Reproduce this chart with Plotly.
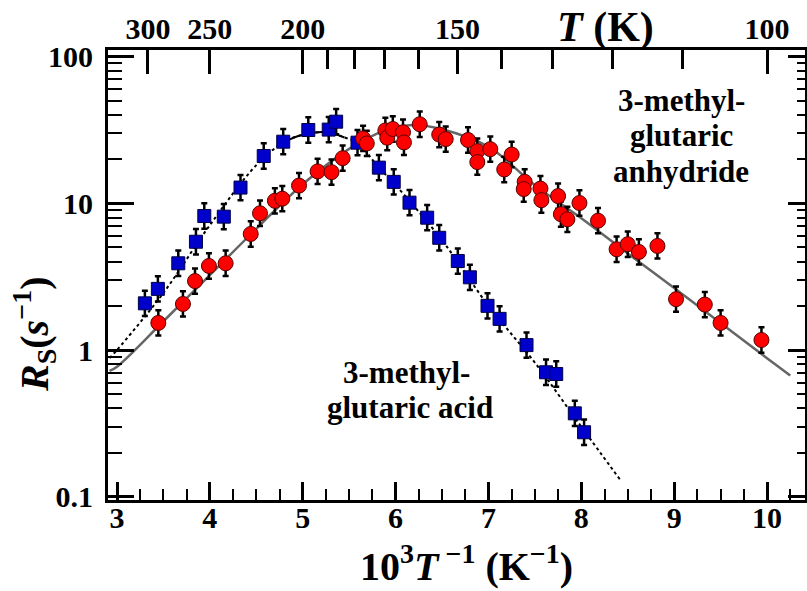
import plotly.graph_objects as go

# ---------------- data ----------------
# 3-methylglutaric acid (blue squares)
acid_x = [3.30, 3.44, 3.66, 3.85, 3.94, 4.15, 4.33, 4.58, 4.79, 5.06, 5.28, 5.36,
          5.59, 5.82, 5.98, 6.15, 6.34, 6.47, 6.67, 6.80, 6.99, 7.12, 7.41, 7.62,
          7.73, 7.93, 8.03]
acid_y = [2.08, 2.61, 3.90, 5.47, 8.19, 8.11, 12.8, 21.0, 26.3, 31.6, 31.8, 36.0,
          25.9, 17.5, 14.0, 10.1, 7.98, 5.82, 4.04, 3.13, 2.00, 1.63, 1.08, 0.705,
          0.686, 0.370, 0.275]

# 3-methylglutaric anhydride (red circles)
anh_x = [3.445, 3.71, 3.84, 3.99, 4.17, 4.44, 4.54, 4.70, 4.78, 4.96, 5.16, 5.31,
         5.43, 5.65, 5.69, 5.89, 5.91, 5.97, 6.08, 6.09, 6.26, 6.47, 6.54, 6.78,
         6.88, 6.88, 7.02, 7.17, 7.25, 7.39, 7.38, 7.56, 7.57, 7.75, 7.78, 7.85,
         7.98, 8.18, 8.38, 8.50, 8.62, 8.82, 9.02, 9.33, 9.50, 9.94]
anh_y = [1.53, 2.06, 2.95, 3.74, 3.90, 6.18, 8.55, 10.4, 10.75, 13.2, 16.5, 16.3,
         20.3, 27.7, 25.6, 31.4, 28.0, 32.1, 30.5, 26.0, 34.6, 29.4, 27.4, 27.0,
         22.7, 19.1, 23.4, 17.0, 21.5, 14.0, 12.5, 12.6, 10.5, 11.2, 8.43, 7.78,
         10.05, 7.61, 4.86, 5.26, 4.66, 5.12, 2.22, 2.04, 1.53, 1.17]

# relative error-bar factor (about +/-0.085 decade)
err_factor = 1.22

# fit curves, points
fit_acid_x = [2.92, 3.0, 3.5, 4.0, 4.5, 4.8, 5.0, 5.25, 5.45, 5.6, 5.8, 6.0, 6.5,
              7.0, 7.5, 8.0, 8.42]
fit_acid_y = [0.88, 1.0, 2.45, 7.1, 18.2, 26.2, 29.3, 30.5, 28.1, 25.6, 18.1, 13.3,
              5.6, 2.0, 0.82, 0.30, 0.13]
peak_lo, peak_hi = 4.75, 5.55

fit_anh_x = [2.92, 3.0, 3.5, 4.0, 4.5, 5.0, 5.5, 5.8, 6.0, 6.2, 6.5, 7.0, 7.5, 8.0,
             8.5, 9.0, 9.5, 10.0, 10.25]
fit_anh_y = [0.72, 0.77, 1.57, 3.24, 6.7, 13.5, 23.5, 29.8, 32.9, 34.2, 32.0, 24.3,
             13.3, 7.9, 4.55, 2.65, 1.53, 0.88, 0.67]

# top axis (temperature)
T_labeled = [300, 250, 200, 150, 100]
T_minor = [190, 180, 170, 160, 140, 130, 120, 110]

# ---------------- figure ----------------
FONT = "Liberation Serif"
X_RANGE = [2.903, 10.409]
Y_RANGE = [-1.0225, 2.045]


def errs(ys):
    up = [v * (err_factor - 1) for v in ys]
    dn = [v * (1 - 1 / err_factor) for v in ys]
    return up, dn


fig = go.Figure()

fig.add_trace(go.Scatter(x=fit_anh_x, y=fit_anh_y, mode="lines",
                         line=dict(color="#666666", width=2.5, shape="spline"),
                         showlegend=False, hoverinfo="skip"))
fig.add_trace(go.Scatter(x=fit_acid_x, y=fit_acid_y, mode="lines",
                         line=dict(color="black", width=2, dash="dot", shape="spline"),
                         showlegend=False, hoverinfo="skip"))
pk_x = [x for x in fit_acid_x if peak_lo <= x <= peak_hi]
pk_y = [y for x, y in zip(fit_acid_x, fit_acid_y) if peak_lo <= x <= peak_hi]
fig.add_trace(go.Scatter(x=pk_x, y=pk_y, mode="lines",
                         line=dict(color="black", width=2, shape="spline"),
                         showlegend=False, hoverinfo="skip"))

up, dn = errs(acid_y)
fig.add_trace(go.Scatter(x=acid_x, y=acid_y, mode="markers",
                         marker=dict(symbol="square", size=13, color="#0000cc",
                                     line=dict(color="#000044", width=1)),
                         error_y=dict(type="data", symmetric=False, array=up, arrayminus=dn,
                                      color="black", thickness=2.5, width=3),
                         showlegend=False))
up, dn = errs(anh_y)
fig.add_trace(go.Scatter(x=anh_x, y=anh_y, mode="markers",
                         marker=dict(symbol="circle", size=15, color="#ff0000",
                                     line=dict(color="#550000", width=1)),
                         error_y=dict(type="data", symmetric=False, array=up, arrayminus=dn,
                                      color="black", thickness=2.5, width=3),
                         showlegend=False))

# dummy traces so that the extra axes exist
fig.add_trace(go.Scatter(x=[], y=[], xaxis="x2", yaxis="y", showlegend=False))
fig.add_trace(go.Scatter(x=[], y=[], xaxis="x3", yaxis="y", showlegend=False))
fig.add_trace(go.Scatter(x=[], y=[], xaxis="x", yaxis="y2", showlegend=False))

tickfont = dict(family=FONT, size=30, color="black", weight="bold")
y_major = [0.1, 1, 10, 100]
y_minor = [m * 10 ** e for e in range(-1, 2) for m in range(2, 10)]

fig.update_layout(
    width=807, height=591,
    margin=dict(l=108, r=2, t=50, b=91),
    paper_bgcolor="white", plot_bgcolor="white",
    showlegend=False,
    xaxis=dict(range=X_RANGE, tickmode="linear", tick0=3, dtick=1,
               ticks="inside", ticklen=18, tickwidth=2.5, tickcolor="black",
               showline=True, linewidth=3, linecolor="black", mirror=False,
               showgrid=False, zeroline=False, tickfont=tickfont,
               ticklabelstandoff=-11,
               minor=dict(ticks="inside", dtick=0.25, tick0=3, ticklen=11,
                          tickwidth=2, tickcolor="black", showgrid=False)),
    xaxis2=dict(range=X_RANGE, overlaying="x", side="top", anchor="y",
                tickmode="array", tickvals=[1000 / T for T in T_labeled],
                ticktext=[str(T) for T in T_labeled],
                ticks="inside", ticklen=24, tickwidth=2.5, tickcolor="black",
                showline=True, linewidth=3, linecolor="black",
                showgrid=False, zeroline=False, tickfont=tickfont,
                ticklabelstandoff=-4),
    xaxis3=dict(range=X_RANGE, overlaying="x", side="top", anchor="y",
                tickmode="array", tickvals=[1000 / T for T in T_minor],
                showticklabels=False,
                ticks="inside", ticklen=19, tickwidth=2.5, tickcolor="black",
                showline=False, showgrid=False, zeroline=False),
    yaxis=dict(type="log", range=Y_RANGE, tickmode="array", tickvals=y_major,
               ticktext=["0.1", "1", "10", "100"],
               ticks="inside", ticklen=26, tickwidth=2.5, tickcolor="black",
               showline=True, linewidth=3, linecolor="black", mirror=False,
               showgrid=False, zeroline=False, tickfont=tickfont,
               ticklabelstandoff=6,
               minor=dict(ticks="inside", tickmode="array", tickvals=y_minor,
                          ticklen=14, tickwidth=2, tickcolor="black", showgrid=False)),
    yaxis2=dict(type="log", range=Y_RANGE, overlaying="y", side="right", anchor="x",
                tickmode="array", tickvals=y_major, showticklabels=False,
                ticks="inside", ticklen=17, tickwidth=2.5, tickcolor="black",
                showline=True, linewidth=3, linecolor="black",
                showgrid=False, zeroline=False,
                minor=dict(ticks="inside", tickmode="array", tickvals=y_minor,
                           ticklen=8, tickwidth=2, tickcolor="black", showgrid=False)),
)


def px2paper(px, py):
    return (px - 108) / 697, (500 - py) / 450


def add_text(text, px, py, size, angle=0):
    x, y = px2paper(px, py)
    fig.add_annotation(text=text, x=x, y=y, xref="paper", yref="paper",
                       xanchor="center", yanchor="middle", showarrow=False,
                       textangle=angle,
                       font=dict(family=FONT, size=size, color="black", weight="bold"))


add_text("<i>T</i> (K)", 605, 28, 42)
add_text("10<sup>3</sup><i>T</i><sup> \u22121</sup> (K<sup>\u22121</sup>)", 466, 563, 40)
add_text("<i>R</i><sub>S</sub>(<i>s</i><sup>\u22121</sup>)", 34, 335, 40, angle=-90)

add_text("3-methyl-", 681, 100, 31)
add_text("glutaric", 681, 135, 31)
add_text("anhydride", 681, 171, 31)
add_text("3-methyl-", 406, 372, 31)
add_text("glutaric acid", 410, 407, 31)

fig.write_html("out.html")
